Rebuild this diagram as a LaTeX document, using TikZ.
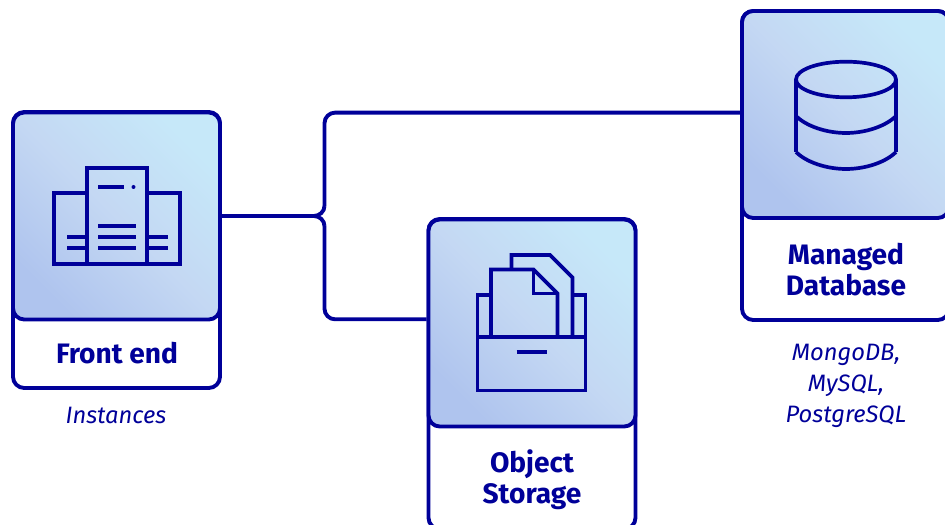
\documentclass[tikz,border=0pt]{standalone}
\usepackage{fontspec}
\setmainfont{Fira Sans}
\definecolor{inkblue}{HTML}{000099}
\definecolor{cardlow}{HTML}{AFC4EE}
\definecolor{cardmid}{HTML}{C4D8F3}
\definecolor{cardhigh}{HTML}{C6E8F9}
\tikzset{
    cardbox/.style={draw=inkblue,line width=1.1pt,rounded corners=3.2pt,fill=white,minimum width=207*0.01cm,inner sep=0pt},
    iconbox/.style={cardbox,minimum height=207*0.01cm,top color=cardhigh,bottom color=cardlow,middle color=cardmid,shading angle=-45},
    wire/.style={draw=inkblue,line width=1.1pt},
    iconline/.style={draw=inkblue,line width=1.05pt},
    cardtitle/.style={text=inkblue,font=\fontsize{8}{8.8}\selectfont\bfseries,align=center,inner sep=0pt},
    cardnote/.style={text=inkblue,font=\fontsize{6.75}{8.8}\selectfont\itshape,align=center,inner sep=0pt},
}

\begin{document}
\begin{tikzpicture}[x=0.01cm,y=-0.01cm]
    \useasboundingbox (0,0) rectangle (945,525);
    \clip (0,0) rectangle (945,525);
    % cards
    \node[cardbox,minimum height=276*0.01cm] (frontcard) at (116.5,250) {};
    \node[iconbox] (frontbox) at (116.5,216) {};
    \node[cardtitle] (fronttitle) at (117,353) {Front end};
    \node[cardnote] (frontnote) at (116,415.5) {Instances};
    \node[cardbox,minimum height=310*0.01cm] (objcard) at (532,374) {};
    \node[iconbox] (objbox) at (532,323) {};
    \node[cardtitle] (objtitle) at (532,479.5) {Object\\Storage};
    \node[cardbox,minimum height=309*0.01cm] (dbcard) at (845.5,165.5) {};
    \node[iconbox] (dbbox) at (845.5,114.5) {};
    \node[cardtitle] (dbtitle) at (846,269.5) {Managed\\Database};
    \node[cardnote] (dbnote) at (846,386) {MongoDB,\\MySQL,\\PostgreSQL};
    % connectors
    \coordinate (fork) at (314,216);
    \draw[wire] (fork) .. controls (319.5,216) and (324.5,211.5) .. (324.5,206);
    \draw[wire] (fork) .. controls (319.5,216) and (324.5,220.5) .. (324.5,226);
    \draw[wire,rounded corners=3pt] (324.5,206) |- (dbbox.179);
    \draw[wire,rounded corners=3pt] (324.5,226) |- (objbox.178.4);
    \draw[wire] (frontbox.east) -- (fork);
    % servers
    \draw[iconline] (87,168) rectangle (147,264);
    \draw[iconline] (87,193) -| (54,264) -- (87,264);
    \draw[iconline] (147,193) -| (180,264) -- (147,264);
    \draw[iconline] (98,187) -- (124,187);
    \fill[inkblue] (133.5,187) circle (2);
    \foreach \Y in {226,237,248}
    {\draw[iconline] (98,\Y) -- (136,\Y);}
    \foreach \Y in {237,248}
    {\draw[iconline] (67,\Y) -- (87,\Y);
    \draw[iconline] (147,\Y) -- (168,\Y);}
    % tray with documents
    \draw[iconline] (477.5,337) rectangle (585.5,390.5);
    \draw[iconline] (491,295) -| (477.5,337);
    \draw[iconline] (572.5,295) -| (585.5,337);
    \draw[iconline] (491,337) |- (533.5,269.5) -- (557.5,293.5) -- (557.5,337);
    \draw[iconline] (533.5,269.5) |- (557.5,293.5);
    \draw[iconline] (511.5,269.5) |- (550,255) -- (572.5,277.5) -- (572.5,337);
    \draw[iconline] (516.5,352) -- (547,352);
    % database
    \draw[iconline] (846,79.5) ellipse [x radius=50,y radius=17.8];
    \draw[iconline] (796,79.5) -- (796,152);
    \draw[iconline] (896,79.5) -- (896,152);
    \foreach \Y in {116,152}
    {\draw[iconline] (796,\Y) .. controls (806,\Y+10) and (826,\Y+17) .. (846,\Y+17) .. controls (866,\Y+17) and (886,\Y+10) .. (896,\Y);}
\end{tikzpicture}
\end{document}
